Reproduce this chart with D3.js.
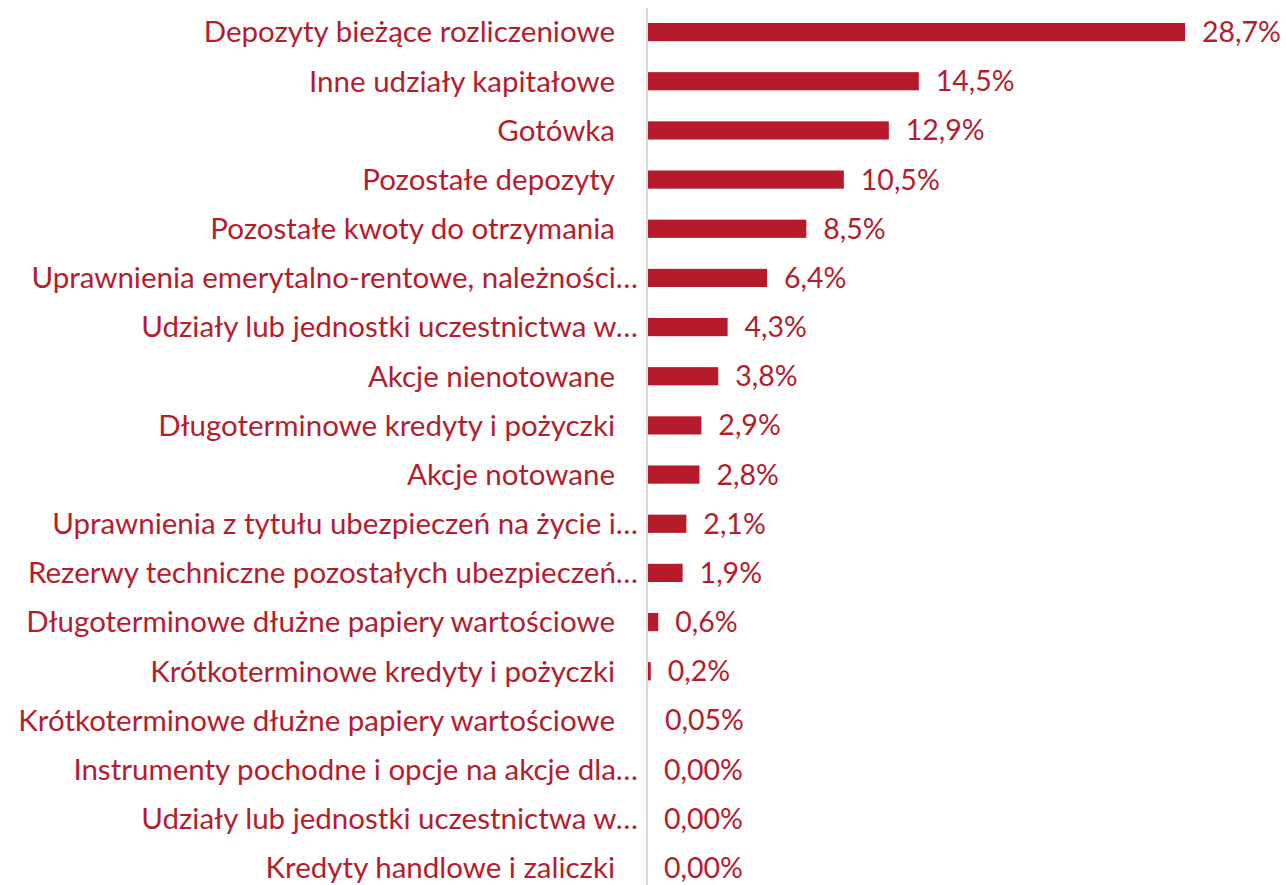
<!DOCTYPE html>
<html lang="pl">
<head>
<meta charset="utf-8"/>
<title>Struktura aktywów finansowych</title>
<script src="https://cdn.jsdelivr.net/npm/d3@7"></script>
<style>
  html, body { margin: 0; padding: 0; background: #fff; }
  svg text { font-family: Lato, "Open Sans", sans-serif; fill: #B71C2C; }
</style>
</head>
<body>
<div id="chart"></div>
<script>
// kategorie i udziały (%)
const categories = [
  "Depozyty bieżące rozliczeniowe",
  "Inne udziały kapitałowe",
  "Gotówka",
  "Pozostałe depozyty",
  "Pozostałe kwoty do otrzymania",
  "Uprawnienia emerytalno-rentowe, należności…",
  "Udziały lub jednostki uczestnictwa w…",
  "Akcje nienotowane",
  "Długoterminowe kredyty i pożyczki",
  "Akcje notowane",
  "Uprawnienia z tytułu ubezpieczeń na życie i…",
  "Rezerwy techniczne pozostałych ubezpieczeń…",
  "Długoterminowe dłużne papiery wartościowe",
  "Krótkoterminowe kredyty i pożyczki",
  "Krótkoterminowe dłużne papiery wartościowe",
  "Instrumenty pochodne i opcje na akcje dla…",
  "Udziały lub jednostki uczestnictwa w…",
  "Kredyty handlowe i zaliczki"
];
const values = [28.7, 14.5, 12.9, 10.5, 8.5, 6.4, 4.3, 3.8, 2.9, 2.8, 2.1, 1.9, 0.6, 0.2, 0.05, 0, 0, 0];
const valueLabels = ["28,7%", "14,5%", "12,9%", "10,5%", "8,5%", "6,4%", "4,3%", "3,8%", "2,9%", "2,8%",
                     "2,1%", "1,9%", "0,6%", "0,2%", "0,05%", "0,00%", "0,00%", "0,00%"];

const W = 1286, H = 885;
const axisX = 647;
const red = "#B51B2A";

const svg = d3.select("#chart").append("svg")
  .attr("width", W).attr("height", H);

const x = d3.scaleLinear().domain([0, 28.7]).range([axisX, 1185]);

const idx = d3.range(categories.length);
const y = d3.scaleBand().domain(idx).range([7.5, 892.5]).paddingInner(0.63).paddingOuter(0.315);

// bars
svg.append("g").selectAll("rect")
  .data(idx)
  .join("rect")
  .attr("x", x(0))
  .attr("y", i => y(i))
  .attr("width", i => Math.max(0, x(values[i]) - x(0)))
  .attr("height", y.bandwidth())
  .attr("fill", red);

// category axis line
svg.append("line")
  .attr("x1", axisX).attr("x2", axisX)
  .attr("y1", 8).attr("y2", H)
  .attr("stroke", "#d9d9d9").attr("stroke-width", 2);

// category labels (truncated ones run a bit closer to the axis, as in Excel)
svg.append("g").selectAll("text")
  .data(idx)
  .join("text")
  .attr("x", i => categories[i].endsWith("…") ? 638 : 615)
  .attr("y", i => y(i) + y.bandwidth() / 2)
  .attr("dy", "0.35em")
  .attr("text-anchor", "end")
  .attr("font-size", 29.5)
  .text(i => categories[i]);

// value labels
svg.append("g").selectAll("text")
  .data(idx)
  .join("text")
  .attr("x", i => x(values[i]) + 17)
  .attr("y", i => y(i) + y.bandwidth() / 2)
  .attr("dy", "0.35em")
  .attr("font-size", 28.5)
  .text(i => valueLabels[i]);
</script>
</body>
</html>
